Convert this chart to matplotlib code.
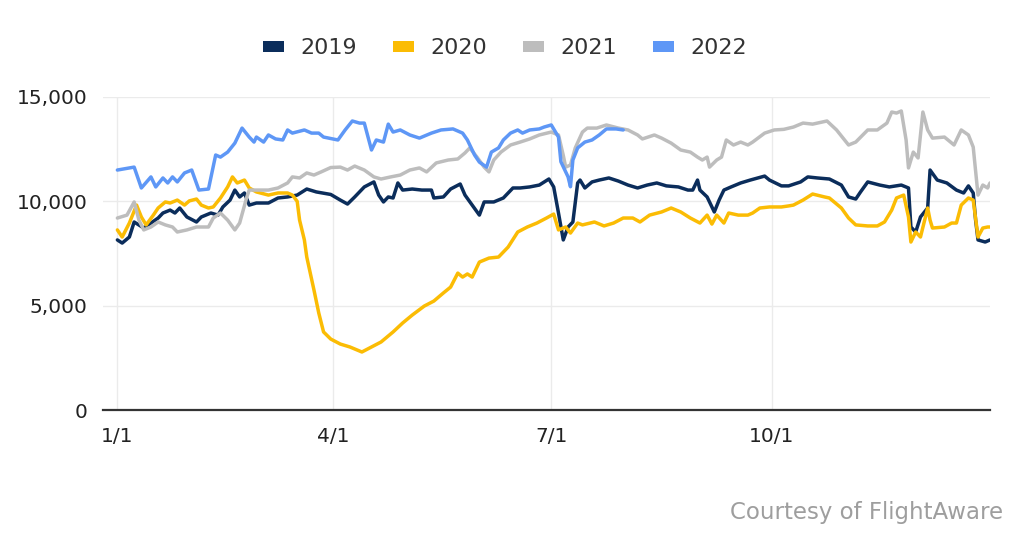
import matplotlib
matplotlib.use("Agg")
import matplotlib.pyplot as plt
from matplotlib.patches import Patch

plt.rcParams['font.family'] = ['DejaVu Sans']

# ---- data (day of year, daily flights) ----
years = ["2019", "2020", "2021", "2022"]
colors = ["#0b2d5b", "#fbbc04", "#bdbdbd", "#5e97f6"]

tick_days = [0, 90, 181, 273]
tick_labels = ["1/1", "4/1", "7/1", "10/1"]
y_ticks = [0, 5000, 10000, 15000]

d2019 = [0, 2, 5, 7, 11, 14, 17, 19, 22, 24, 26, 29, 33, 35, 39, 42, 44, 47, 49, 51, 53, 55, 58, 63, 67,
         71, 75, 79, 83, 89, 93, 96, 99, 103, 107, 109, 111, 113, 115, 117, 119, 123, 127, 131, 132, 136,
         139, 143, 145, 148, 151, 153, 157, 161, 165, 168, 172, 176, 180, 182, 184, 186, 188, 190, 192,
         193, 195, 198, 201, 205, 209, 213, 217, 221, 225, 229, 234, 238, 240, 242, 243, 246, 249, 251,
         253, 256, 260, 264, 270, 272, 277, 280, 285, 288, 292, 297, 302, 305, 308, 310, 313, 318, 322,
         327, 330, 331, 333, 335, 338, 339, 342, 346, 350, 353, 355, 357, 358, 359, 362, 364]
v2019 = [8150, 8000, 8290, 9010, 8720, 8960, 9200, 9440, 9580, 9440, 9680, 9250, 9010, 9250, 9440, 9340,
         9730, 10060, 10540, 10210, 10400, 9820, 9920, 9920, 10160, 10210, 10300, 10590, 10450, 10330,
         10060, 9870, 10210, 10690, 10930, 10300, 9970, 10210, 10160, 10880, 10540, 10590, 10540, 10540,
         10160, 10210, 10590, 10830, 10300, 9820, 9340, 9970, 9970, 10160, 10640, 10640, 10690, 10780,
         11070, 10690, 9440, 8150, 8770, 9010, 10880, 11020, 10640, 10930, 11020, 11120, 10970, 10780,
         10640, 10780, 10880, 10740, 10690, 10540, 10540, 11020, 10540, 10210, 9490, 10060, 10540, 10690,
         10880, 11020, 11210, 11020, 10740, 10740, 10930, 11170, 11120, 11070, 10780, 10210, 10110, 10450,
         10930, 10780, 10690, 10780, 10640, 8770, 8530, 9250, 9680, 11500, 11020, 10880, 10540, 10400,
         10740, 10400, 9100, 8150, 8050, 8150]

d2020 = [0, 2, 5, 8, 10, 12, 15, 17, 20, 22, 25, 28, 30, 33, 35, 38, 40, 43, 46, 48, 50, 53, 55, 58, 63,
         67, 71, 73, 75, 76, 78, 79, 82, 84, 86, 89, 93, 97, 102, 106, 110, 115, 119, 123, 128, 132, 136,
         139, 142, 144, 146, 148, 151, 155, 159, 163, 167, 171, 175, 179, 182, 184, 187, 189, 192, 194,
         199, 203, 207, 211, 215, 218, 222, 227, 231, 235, 239, 243, 246, 248, 250, 253, 255, 259, 263,
         265, 268, 272, 277, 280, 282, 286, 290, 295, 297, 302, 305, 308, 313, 317, 320, 323, 325, 328,
         330, 331, 333, 335, 338, 339, 340, 345, 348, 350, 352, 355, 357, 359, 361, 363, 364]
v2020 = [8630, 8290, 8960, 9820, 9250, 8870, 9340, 9680, 9970, 9920, 10060, 9820, 10020, 10110, 9820,
         9680, 9730, 10160, 10690, 11170, 10880, 11020, 10640, 10450, 10300, 10400, 10400, 10300, 10000,
         9100, 8150, 7330, 5750, 4650, 3740, 3400, 3160, 3020, 2780, 3020, 3260, 3740, 4170, 4550, 4980,
         5220, 5610, 5890, 6560, 6370, 6520, 6370, 7090, 7280, 7330, 7810, 8530, 8770, 8960, 9200, 9390,
         8630, 8770, 8480, 8960, 8870, 9010, 8820, 8960, 9200, 9200, 9010, 9340, 9490, 9680, 9490, 9200,
         8960, 9340, 8910, 9340, 8960, 9440, 9340, 9340, 9440, 9680, 9730, 9730, 9780, 9820, 10060,
         10350, 10210, 10160, 9680, 9200, 8870, 8820, 8820, 9010, 9580, 10160, 10300, 9250, 8050, 8530,
         8290, 9680, 9100, 8720, 8770, 8960, 8960, 9820, 10160, 10060, 8290, 8720, 8770, 8770]

d2021 = [0, 4, 7, 9, 11, 14, 17, 20, 23, 25, 29, 33, 38, 40, 43, 46, 49, 51, 54, 55, 58, 63, 67, 71, 73,
         76, 79, 82, 85, 89, 93, 96, 99, 103, 107, 110, 114, 118, 122, 126, 129, 133, 138, 142, 145, 147,
         150, 153, 155, 157, 160, 164, 168, 172, 176, 181, 184, 186, 187, 189, 191, 194, 196, 200, 204,
         209, 213, 217, 219, 224, 227, 231, 235, 239, 242, 244, 246, 247, 250, 252, 254, 257, 260, 263,
         265, 270, 274, 278, 282, 286, 290, 296, 300, 305, 308, 313, 317, 321, 323, 325, 327, 329, 330,
         332, 334, 336, 338, 340, 345, 349, 352, 355, 357, 359, 361, 363, 364]
v2021 = [9200, 9340, 9970, 9100, 8630, 8770, 9010, 8870, 8770, 8530, 8630, 8770, 8770, 9200, 9440, 9100,
         8630, 8960, 10210, 10540, 10540, 10540, 10640, 10880, 11170, 11120, 11360, 11260, 11410, 11620,
         11640, 11500, 11690, 11500, 11170, 11070, 11170, 11260, 11500, 11600, 11410, 11840, 11980, 12030,
         12320, 12560, 12120, 11640, 11410, 11980, 12360, 12700, 12840, 12990, 13180, 13320, 13180, 12200,
         11640, 11740, 12560, 13320, 13510, 13510, 13660, 13510, 13420, 13180, 12990, 13180, 13030, 12790,
         12460, 12360, 12120, 11980, 12120, 11640, 11980, 12120, 12940, 12700, 12840, 12700, 12840, 13270,
         13420, 13450, 13560, 13750, 13700, 13850, 13420, 12700, 12840, 13420, 13420, 13750, 14280, 14230,
         14330, 12940, 11600, 12360, 12080, 14280, 13420, 13030, 13080, 12700, 13420, 13180, 12600, 10300,
         10780, 10640, 10880]

d2022 = [0, 7, 10, 14, 16, 19, 21, 23, 25, 28, 31, 34, 38, 41, 43, 46, 49, 52, 55, 57, 58, 61, 63, 66,
         69, 71, 73, 78, 81, 84, 86, 89, 92, 95, 98, 101, 103, 106, 108, 111, 113, 115, 118, 122, 126,
         131, 135, 140, 144, 146, 149, 151, 154, 156, 159, 161, 164, 167, 169, 172, 176, 178, 181, 184,
         185, 188, 189, 190, 192, 195, 198, 201, 204, 208, 211]
v2022 = [11500, 11640, 10640, 11170, 10690, 11120, 10880, 11170, 10930, 11360, 11500, 10540, 10590,
         12220, 12120, 12360, 12790, 13510, 13080, 12840, 13080, 12840, 13180, 12990, 12940, 13420, 13270,
         13420, 13270, 13270, 13080, 13010, 12940, 13420, 13850, 13750, 13750, 12460, 12940, 12840, 13700,
         13320, 13420, 13180, 13030, 13270, 13420, 13470, 13270, 12940, 12220, 11880, 11640, 12360, 12560,
         12940, 13270, 13420, 13270, 13420, 13470, 13560, 13660, 13080, 11900, 11170, 10700, 11980, 12560,
         12840, 12940, 13180, 13470, 13470, 13420]

series_days = [d2019, d2020, d2021, d2022]
series_vals = [v2019, v2020, v2021, v2022]

# ---- figure ----
fig = plt.figure(figsize=(10.14, 5.34), dpi=100)
ax = fig.add_axes([103 / 1014, 1 - 410 / 534, (990 - 103) / 1014, (410 - 97) / 534])

for days, vals, col in zip(series_days, series_vals, colors):
    ax.plot(days, vals, color=col, lw=2.5, solid_joinstyle="round", solid_capstyle="round", zorder=3)

ax.set_xlim(-6, 364)
ax.set_ylim(0, 15000)
ax.set_xticks(tick_days)
ax.set_xticklabels(tick_labels)
ax.set_yticks(y_ticks)
ax.set_yticklabels([f"{v:,}" for v in y_ticks])
ax.grid(True, color="#ebebeb", lw=1.0, zorder=0)
ax.set_axisbelow(True)
for s in ["top", "right", "left"]:
    ax.spines[s].set_visible(False)
ax.spines["bottom"].set_color("#333333")
ax.spines["bottom"].set_linewidth(1.6)
ax.spines["bottom"].set_zorder(4)
ax.tick_params(axis="x", length=0, pad=12, labelsize=14.5, labelcolor="#222222")
ax.tick_params(axis="y", length=0, pad=11, labelsize=14.5, labelcolor="#222222")

handles = [Patch(facecolor=c, edgecolor="none", label=y) for y, c in zip(years, colors)]
fig.legend(handles=handles, loc="center", bbox_to_anchor=(505 / 1014, 1 - 48 / 534), ncol=4,
           frameon=False, fontsize=16, handlelength=0.95, handleheight=0.38,
           handletextpad=0.75, columnspacing=1.6, labelcolor="#333333")

fig.text(1003 / 1014, 1 - 512 / 534, "Courtesy of FlightAware", ha="right", va="center",
         fontsize=16.5, color="#9e9e9e")

fig.savefig("out.png", dpi=100, facecolor="white")
